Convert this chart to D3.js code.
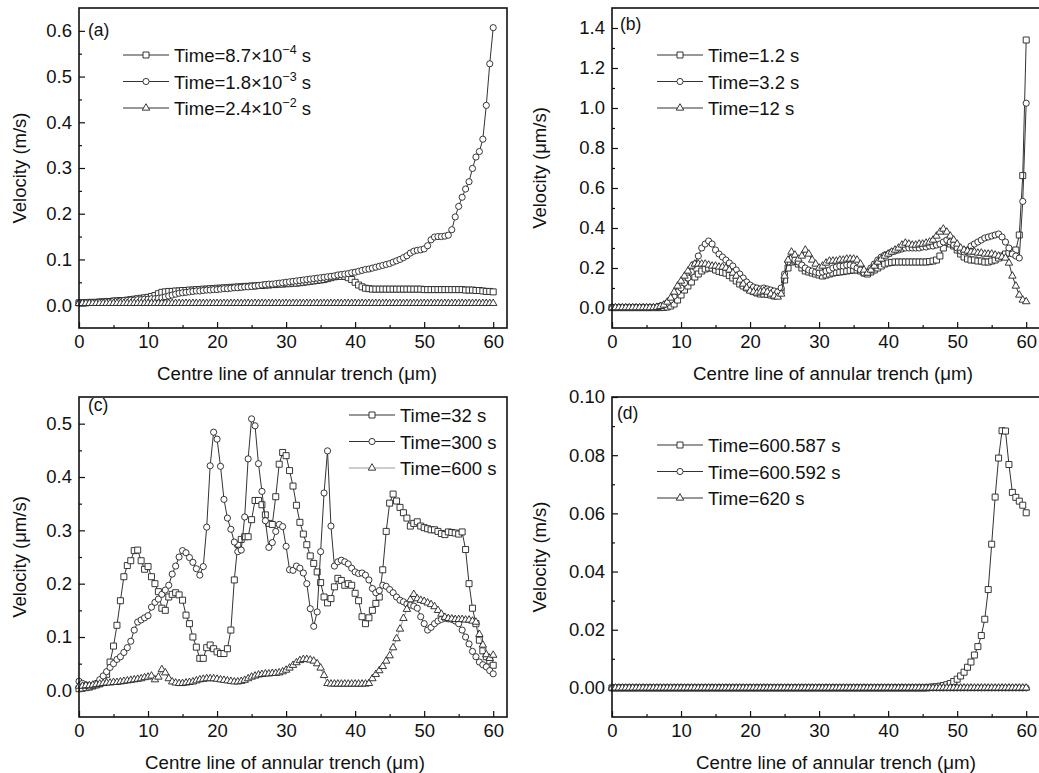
<!DOCTYPE html>
<html>
<head>
<meta charset="utf-8">
<script src="https://cdn.jsdelivr.net/npm/d3@7"></script>
<style>
  body { margin: 0; background: #fff; }
  text { font-family: "Liberation Sans", Arial, sans-serif; fill: #111; }
</style>
</head>
<body>
<svg id="chart" width="1039" height="773"></svg>
<script>
// sample positions along the trench centre line (um)
let positions = [
  0, 0.5, 1, 1.5, 2, 2.5, 3, 3.5, 4, 4.5,
  5, 5.5, 6, 6.5, 7, 7.5, 8, 8.5, 9, 9.5,
  10, 10.5, 11, 11.5, 12, 12.5, 13, 13.5, 14, 14.5,
  15, 15.5, 16, 16.5, 17, 17.5, 18, 18.5, 19, 19.5,
  20, 20.5, 21, 21.5, 22, 22.5, 23, 23.5, 24, 24.5,
  25, 25.5, 26, 26.5, 27, 27.5, 28, 28.5, 29, 29.5,
  30, 30.5, 31, 31.5, 32, 32.5, 33, 33.5, 34, 34.5,
  35, 35.5, 36, 36.5, 37, 37.5, 38, 38.5, 39, 39.5,
  40, 40.5, 41, 41.5, 42, 42.5, 43, 43.5, 44, 44.5,
  45, 45.5, 46, 46.5, 47, 47.5, 48, 48.5, 49, 49.5,
  50, 50.5, 51, 51.5, 52, 52.5, 53, 53.5, 54, 54.5,
  55, 55.5, 56, 56.5, 57, 57.5, 58, 58.5, 59, 59.5,
  60
]

let xTicks = [0, 10, 20, 30, 40, 50, 60]
let xMinor = [5, 15, 25, 35, 45, 55]

// (a)
let aLegend = ['Time=8.7×10{−4} s', 'Time=1.8×10{−3} s', 'Time=2.4×10{−2} s']
let aTicks = [0, 0.1, 0.2, 0.3, 0.4, 0.5, 0.6]
let aMinor = [0.05, 0.15, 0.25, 0.35, 0.45, 0.55]
let aSquare = [
  0.005, 0.005, 0.005, 0.006, 0.006, 0.006, 0.007, 0.007, 0.008, 0.008,
  0.009, 0.009, 0.010, 0.010, 0.011, 0.012, 0.013, 0.014, 0.015, 0.016,
  0.017, 0.019, 0.021, 0.025, 0.028, 0.029, 0.030, 0.030, 0.031, 0.031,
  0.032, 0.032, 0.033, 0.033, 0.034, 0.034, 0.035, 0.035, 0.036, 0.036,
  0.037, 0.037, 0.038, 0.038, 0.039, 0.039, 0.040, 0.040, 0.041, 0.041,
  0.042, 0.042, 0.043, 0.043, 0.044, 0.044, 0.045, 0.045, 0.046, 0.046,
  0.047, 0.047, 0.048, 0.048, 0.049, 0.050, 0.051, 0.052, 0.053, 0.054,
  0.055, 0.056, 0.058, 0.060, 0.062, 0.063, 0.063, 0.063, 0.060, 0.056,
  0.050, 0.044, 0.040, 0.037, 0.036, 0.035, 0.035, 0.035, 0.035, 0.035,
  0.035, 0.035, 0.035, 0.035, 0.035, 0.035, 0.035, 0.035, 0.035, 0.035,
  0.034, 0.034, 0.034, 0.034, 0.034, 0.034, 0.034, 0.034, 0.034, 0.034,
  0.034, 0.034, 0.033, 0.033, 0.033, 0.032, 0.032, 0.031, 0.030, 0.030,
  0.029
]
let aCircle = [
  0.005, 0.005, 0.005, 0.006, 0.006, 0.006, 0.007, 0.007, 0.008, 0.008,
  0.009, 0.009, 0.009, 0.010, 0.010, 0.011, 0.011, 0.012, 0.012, 0.013,
  0.013, 0.014, 0.014, 0.015, 0.016, 0.018, 0.020, 0.022, 0.024, 0.026,
  0.027, 0.028, 0.029, 0.030, 0.031, 0.031, 0.032, 0.033, 0.033, 0.034,
  0.034, 0.035, 0.036, 0.036, 0.037, 0.038, 0.038, 0.039, 0.040, 0.040,
  0.041, 0.042, 0.043, 0.044, 0.045, 0.046, 0.046, 0.047, 0.048, 0.049,
  0.050, 0.051, 0.052, 0.053, 0.054, 0.055, 0.056, 0.057, 0.058, 0.059,
  0.060, 0.061, 0.062, 0.063, 0.064, 0.066, 0.067, 0.068, 0.069, 0.071,
  0.072, 0.074, 0.076, 0.078, 0.079, 0.081, 0.083, 0.085, 0.087, 0.089,
  0.091, 0.094, 0.097, 0.100, 0.104, 0.108, 0.114, 0.118, 0.120, 0.121,
  0.123, 0.130, 0.143, 0.149, 0.150, 0.150, 0.151, 0.153, 0.165, 0.193,
  0.216, 0.236, 0.254, 0.270, 0.299, 0.324, 0.336, 0.363, 0.437, 0.528,
  0.607
]
let aTriangle = [
  0.004, 0.004, 0.004, 0.004, 0.004, 0.004, 0.004, 0.004, 0.004, 0.004,
  0.004, 0.004, 0.004, 0.004, 0.004, 0.004, 0.004, 0.004, 0.004, 0.004,
  0.004, 0.004, 0.004, 0.004, 0.004, 0.004, 0.004, 0.004, 0.004, 0.004,
  0.004, 0.004, 0.004, 0.004, 0.004, 0.004, 0.004, 0.004, 0.004, 0.004,
  0.004, 0.004, 0.004, 0.004, 0.004, 0.004, 0.004, 0.004, 0.004, 0.004,
  0.004, 0.004, 0.004, 0.004, 0.004, 0.004, 0.004, 0.004, 0.004, 0.004,
  0.004, 0.004, 0.004, 0.004, 0.004, 0.004, 0.004, 0.004, 0.004, 0.004,
  0.004, 0.004, 0.004, 0.004, 0.004, 0.004, 0.004, 0.004, 0.004, 0.004,
  0.004, 0.004, 0.004, 0.004, 0.004, 0.004, 0.004, 0.004, 0.004, 0.004,
  0.004, 0.004, 0.004, 0.004, 0.004, 0.004, 0.004, 0.004, 0.004, 0.004,
  0.004, 0.004, 0.004, 0.004, 0.004, 0.004, 0.004, 0.004, 0.004, 0.004,
  0.004, 0.004, 0.004, 0.004, 0.004, 0.004, 0.004, 0.004, 0.004, 0.004,
  0.004
]

// (b)
let bLegend = ['Time=1.2 s', 'Time=3.2 s', 'Time=12 s']
let bTicks = [0, 0.2, 0.4, 0.6, 0.8, 1.0, 1.2, 1.4]
let bMinor = [0.1, 0.3, 0.5, 0.7, 0.9, 1.1, 1.3]
let bSquare = [
  0.002, 0.002, 0.002, 0.002, 0.002, 0.002, 0.002, 0.002, 0.002, 0.002,
  0.002, 0.002, 0.002, 0.002, 0.002, 0.003, 0.005, 0.010, 0.020, 0.040,
  0.065, 0.090, 0.110, 0.130, 0.155, 0.170, 0.185, 0.195, 0.200, 0.200,
  0.190, 0.183, 0.178, 0.174, 0.162, 0.150, 0.135, 0.120, 0.110, 0.100,
  0.094, 0.082, 0.075, 0.070, 0.070, 0.068, 0.065, 0.060, 0.065, 0.085,
  0.140, 0.200, 0.230, 0.235, 0.220, 0.200, 0.185, 0.180, 0.175, 0.170,
  0.165, 0.160, 0.165, 0.170, 0.175, 0.178, 0.180, 0.182, 0.185, 0.188,
  0.190, 0.190, 0.185, 0.175, 0.170, 0.180, 0.190, 0.200, 0.210, 0.220,
  0.225, 0.228, 0.230, 0.230, 0.230, 0.230, 0.230, 0.230, 0.230, 0.230,
  0.230, 0.230, 0.232, 0.235, 0.240, 0.260, 0.300, 0.330, 0.320, 0.310,
  0.290, 0.270, 0.255, 0.245, 0.240, 0.240, 0.235, 0.235, 0.230, 0.230,
  0.235, 0.240, 0.250, 0.260, 0.270, 0.275, 0.280, 0.290, 0.365, 0.662,
  1.340
]
let bCircle = [
  0.002, 0.002, 0.002, 0.002, 0.002, 0.002, 0.002, 0.002, 0.002, 0.002,
  0.002, 0.002, 0.003, 0.005, 0.010, 0.015, 0.025, 0.040, 0.060, 0.080,
  0.100, 0.125, 0.150, 0.180, 0.220, 0.260, 0.300, 0.320, 0.335, 0.320,
  0.290, 0.270, 0.255, 0.240, 0.225, 0.210, 0.190, 0.170, 0.150, 0.130,
  0.115, 0.105, 0.100, 0.095, 0.100, 0.095, 0.090, 0.085, 0.080, 0.100,
  0.170, 0.230, 0.250, 0.240, 0.230, 0.215, 0.200, 0.190, 0.185, 0.180,
  0.175, 0.180, 0.185, 0.190, 0.200, 0.205, 0.210, 0.210, 0.215, 0.215,
  0.210, 0.200, 0.190, 0.175, 0.180, 0.200, 0.220, 0.240, 0.255, 0.265,
  0.270, 0.280, 0.285, 0.290, 0.295, 0.300, 0.300, 0.300, 0.300, 0.300,
  0.305, 0.305, 0.310, 0.310, 0.315, 0.320, 0.330, 0.340, 0.330, 0.315,
  0.300, 0.285, 0.280, 0.290, 0.310, 0.320, 0.330, 0.340, 0.350, 0.355,
  0.360, 0.365, 0.370, 0.355, 0.330, 0.300, 0.270, 0.260, 0.250, 0.533,
  1.024
]
let bTriangle = [
  0.002, 0.002, 0.002, 0.002, 0.002, 0.002, 0.002, 0.002, 0.002, 0.002,
  0.002, 0.002, 0.002, 0.004, 0.008, 0.015, 0.030, 0.050, 0.080, 0.110,
  0.135, 0.160, 0.185, 0.210, 0.220, 0.220, 0.220, 0.220, 0.215, 0.210,
  0.210, 0.205, 0.205, 0.200, 0.190, 0.175, 0.160, 0.140, 0.120, 0.100,
  0.085, 0.080, 0.075, 0.080, 0.085, 0.080, 0.070, 0.060, 0.055, 0.070,
  0.160, 0.240, 0.280, 0.265, 0.245, 0.260, 0.290, 0.270, 0.240, 0.220,
  0.200, 0.210, 0.225, 0.235, 0.235, 0.235, 0.240, 0.240, 0.245, 0.245,
  0.245, 0.240, 0.220, 0.190, 0.175, 0.190, 0.210, 0.230, 0.245, 0.260,
  0.270, 0.280, 0.290, 0.300, 0.315, 0.325, 0.320, 0.315, 0.315, 0.320,
  0.320, 0.325, 0.330, 0.340, 0.360, 0.380, 0.395, 0.380, 0.360, 0.340,
  0.320, 0.300, 0.290, 0.285, 0.280, 0.280, 0.275, 0.275, 0.270, 0.270,
  0.270, 0.265, 0.260, 0.255, 0.250, 0.225, 0.160, 0.110, 0.065, 0.040,
  0.032
]

// (c)
let cLegend = ['Time=32 s', 'Time=300 s', 'Time=600 s']
let cTicks = [0, 0.1, 0.2, 0.3, 0.4, 0.5]
let cMinor = [0.05, 0.15, 0.25, 0.35, 0.45]
let cSquare = [
  0.003, 0.004, 0.005, 0.006, 0.008, 0.010, 0.012, 0.018, 0.030, 0.053,
  0.083, 0.122, 0.168, 0.213, 0.234, 0.243, 0.262, 0.263, 0.243, 0.227,
  0.232, 0.213, 0.200, 0.185, 0.154, 0.150, 0.175, 0.180, 0.183, 0.179,
  0.169, 0.141, 0.125, 0.100, 0.081, 0.060, 0.060, 0.080, 0.085, 0.078,
  0.072, 0.069, 0.069, 0.078, 0.113, 0.207, 0.274, 0.283, 0.288, 0.288,
  0.320, 0.356, 0.356, 0.348, 0.329, 0.313, 0.311, 0.363, 0.424, 0.446,
  0.440, 0.412, 0.383, 0.347, 0.315, 0.293, 0.273, 0.252, 0.238, 0.222,
  0.202, 0.175, 0.164, 0.172, 0.194, 0.210, 0.206, 0.197, 0.200, 0.197,
  0.182, 0.168, 0.138, 0.125, 0.136, 0.150, 0.163, 0.175, 0.226, 0.298,
  0.351, 0.368, 0.355, 0.343, 0.333, 0.323, 0.308, 0.313, 0.316, 0.308,
  0.305, 0.303, 0.301, 0.301, 0.298, 0.294, 0.292, 0.297, 0.296, 0.295,
  0.293, 0.297, 0.264, 0.200, 0.154, 0.125, 0.094, 0.074, 0.063, 0.055,
  0.047
]
let cCircle = [
  0.017, 0.013, 0.010, 0.008, 0.009, 0.013, 0.020, 0.027, 0.035, 0.043,
  0.050, 0.058, 0.063, 0.071, 0.080, 0.092, 0.113, 0.128, 0.132, 0.136,
  0.140, 0.156, 0.165, 0.171, 0.180, 0.188, 0.197, 0.218, 0.233, 0.250,
  0.262, 0.258, 0.249, 0.240, 0.228, 0.216, 0.232, 0.306, 0.421, 0.484,
  0.471, 0.420, 0.358, 0.323, 0.302, 0.278, 0.260, 0.263, 0.325, 0.434,
  0.509, 0.496, 0.425, 0.373, 0.318, 0.268, 0.277, 0.298, 0.311, 0.307,
  0.270, 0.226, 0.225, 0.233, 0.229, 0.220, 0.200, 0.153, 0.120, 0.147,
  0.260, 0.370, 0.449, 0.308, 0.233, 0.241, 0.244, 0.241, 0.237, 0.229,
  0.222, 0.219, 0.220, 0.216, 0.207, 0.191, 0.183, 0.187, 0.197, 0.195,
  0.189, 0.183, 0.175, 0.169, 0.166, 0.162, 0.160, 0.158, 0.154, 0.138,
  0.125, 0.113, 0.118, 0.125, 0.130, 0.133, 0.135, 0.134, 0.133, 0.130,
  0.125, 0.113, 0.100, 0.087, 0.073, 0.063, 0.053, 0.048, 0.044, 0.037,
  0.031
]
let cTriangle = [
  0.008, 0.008, 0.009, 0.009, 0.010, 0.011, 0.012, 0.013, 0.014, 0.014,
  0.015, 0.015, 0.016, 0.017, 0.018, 0.019, 0.020, 0.021, 0.022, 0.024,
  0.025, 0.027, 0.020, 0.025, 0.039, 0.033, 0.022, 0.016, 0.014, 0.013,
  0.013, 0.014, 0.015, 0.016, 0.018, 0.020, 0.021, 0.022, 0.022, 0.022,
  0.021, 0.020, 0.019, 0.018, 0.017, 0.016, 0.016, 0.017, 0.019, 0.022,
  0.025, 0.027, 0.029, 0.030, 0.031, 0.031, 0.032, 0.032, 0.033, 0.035,
  0.038, 0.042, 0.047, 0.052, 0.056, 0.058, 0.058, 0.057, 0.055, 0.050,
  0.042, 0.028, 0.013, 0.012, 0.012, 0.012, 0.012, 0.012, 0.012, 0.012,
  0.012, 0.012, 0.012, 0.012, 0.013, 0.022, 0.030, 0.037, 0.045, 0.055,
  0.065, 0.080, 0.097, 0.115, 0.135, 0.152, 0.170, 0.180, 0.172, 0.169,
  0.167, 0.164, 0.161, 0.157, 0.150, 0.143, 0.137, 0.135, 0.134, 0.133,
  0.133, 0.133, 0.132, 0.132, 0.130, 0.128, 0.105, 0.085, 0.067, 0.060,
  0.066
]

// (d)
let dLegend = ['Time=600.587 s', 'Time=600.592 s', 'Time=620 s']
let dTicks = [0, 0.02, 0.04, 0.06, 0.08, 0.10]
let dMinor = [0.01, 0.03, 0.05, 0.07, 0.09]
let dSquare = [
  0, 0, 0, 0, 0, 0, 0, 0, 0, 0,
  0, 0, 0, 0, 0, 0, 0, 0, 0, 0,
  0, 0, 0, 0, 0, 0, 0, 0, 0, 0,
  0, 0, 0, 0, 0, 0, 0, 0, 0, 0,
  0, 0, 0, 0, 0, 0, 0, 0, 0, 0,
  0, 0, 0, 0, 0, 0, 0, 0, 0, 0,
  0, 0, 0, 0, 0, 0, 0, 0, 0, 0,
  0, 0, 0, 0, 0, 0, 0, 0, 0, 0,
  0, 0, 0, 0, 0, 0, 0, 0, 0, 0,
  0, 0, 0.0002, 0.0003, 0.0004, 0.0006, 0.0008, 0.0011, 0.0015, 0.0022,
  0.0030, 0.0041, 0.0054, 0.0071, 0.0089, 0.0113, 0.0142, 0.0180, 0.0236, 0.0338,
  0.0494, 0.0656, 0.0790, 0.0884, 0.0883, 0.0768, 0.0672, 0.0655, 0.0642, 0.0628,
  0.0602
]
let dCircle = [
  0, 0, 0, 0, 0, 0, 0, 0, 0, 0,
  0, 0, 0, 0, 0, 0, 0, 0, 0, 0,
  0, 0, 0, 0, 0, 0, 0, 0, 0, 0,
  0, 0, 0, 0, 0, 0, 0, 0, 0, 0,
  0, 0, 0, 0, 0, 0, 0, 0, 0, 0,
  0, 0, 0, 0, 0, 0, 0, 0, 0, 0,
  0, 0, 0, 0, 0, 0, 0, 0, 0, 0,
  0, 0, 0, 0, 0, 0, 0, 0, 0, 0,
  0, 0, 0, 0, 0, 0, 0, 0, 0, 0,
  0, 0, 0, 0, 0, 0, 0, 0, 0, 0,
  0, 0, 0, 0, 0, 0, 0, 0, 0, 0,
  0, 0, 0, 0, 0, 0, 0, 0, 0, 0,
  0
]
let dTriangle = [
  0, 0, 0, 0, 0, 0, 0, 0, 0, 0,
  0, 0, 0, 0, 0, 0, 0, 0, 0, 0,
  0, 0, 0, 0, 0, 0, 0, 0, 0, 0,
  0, 0, 0, 0, 0, 0, 0, 0, 0, 0,
  0, 0, 0, 0, 0, 0, 0, 0, 0, 0,
  0, 0, 0, 0, 0, 0, 0, 0, 0, 0,
  0, 0, 0, 0, 0, 0, 0, 0, 0, 0,
  0, 0, 0, 0, 0, 0, 0, 0, 0, 0,
  0, 0, 0, 0, 0, 0, 0, 0, 0, 0,
  0, 0, 0, 0, 0, 0, 0, 0, 0, 0,
  0, 0, 0, 0, 0, 0, 0, 0, 0, 0,
  0, 0, 0, 0, 0, 0, 0, 0, 0, 0,
  0
]

let svg = d3.select('#chart')

let markers = {
  square: d3.symbol().type(d3.symbolSquare).size(36),
  circle: d3.symbol().type(d3.symbolCircle).size(30),
  triangle: d3.symbol().type(d3.symbolTriangle).size(24)
}
let shapes = ['square', 'circle', 'triangle']

let panels = [
  { tag: '(a)', left: 79, top: 8, yDomain: [-0.05, 0.65], ticks: aTicks, minor: aMinor, fmt: '.1f',
    yTitle: 'Velocity (m/s)', yTitleX: 20, xTitleX: 297, tagPos: [88, 36],
    legend: aLegend, legendPos: [123, 55], data: [aSquare, aCircle, aTriangle], lineColors: ['#333', '#333', '#333'] },
  { tag: '(b)', left: 612, top: 8, yDomain: [-0.1, 1.5], ticks: bTicks, minor: bMinor, fmt: '.1f',
    yTitle: 'Velocity (μm/s)', yTitleX: 540, xTitleX: 833, tagPos: [620, 30],
    legend: bLegend, legendPos: [657, 55], data: [bSquare, bCircle, bTriangle], lineColors: ['#333', '#333', '#333'] },
  { tag: '(c)', left: 79, top: 397, yDomain: [-0.05, 0.55], ticks: cTicks, minor: cMinor, fmt: '.1f',
    yTitle: 'Velocity (μm/s)', yTitleX: 20, xTitleX: 285, tagPos: [88, 411],
    legend: cLegend, legendPos: [349, 415], data: [cSquare, cCircle, cTriangle], lineColors: ['#333', '#333', '#999'] },
  { tag: '(d)', left: 612, top: 397, yDomain: [-0.01, 0.10], ticks: dTicks, minor: dMinor, fmt: '.2f',
    yTitle: 'Velocity (m/s)', yTitleX: 540, xTitleX: 836, tagPos: [617, 419],
    legend: dLegend, legendPos: [657, 445], data: [dSquare, dCircle, dTriangle], lineColors: ['#333', '#333', '#333'] }
]

let plotW = 428
let plotH = 320

let styleAxis = (g) => {
  g.select('.domain').remove()
  g.selectAll('.tick line').attr('stroke', '#111').attr('stroke-width', 1.2)
  g.selectAll('.tick text').attr('font-size', 18.5).attr('fill', '#111')
    .attr('font-family', '"Liberation Sans", Arial, sans-serif')
}

let writeLabel = (sel, label) => {
  // "{...}" marks a superscript
  let m = label.match(/^(.*)\{(.+?)\}(.*)$/)
  if (!m) { sel.text(label); return }
  sel.append('tspan').text(m[1])
  sel.append('tspan').attr('font-size', 12.5).attr('dy', -8).text(m[2])
  sel.append('tspan').attr('dy', 8).text(m[3])
}

let drawPanel = (p) => {
  let right = p.left + plotW
  let bottom = p.top + plotH
  let x = d3.scaleLinear().domain([0, 62]).range([p.left, right])
  let y = d3.scaleLinear().domain(p.yDomain).range([bottom, p.top])
  let g = svg.append('g')

  // axes with inward ticks
  g.append('g').attr('transform', 'translate(0,' + bottom + ')')
    .call(d3.axisBottom(x).tickValues(xTicks).tickSizeInner(-6).tickSizeOuter(0).tickPadding(7))
    .call(styleAxis)
  g.append('g').attr('transform', 'translate(0,' + bottom + ')')
    .call(d3.axisBottom(x).tickValues(xMinor).tickSizeInner(-3).tickSizeOuter(0).tickFormat(''))
    .call(styleAxis)
  g.append('g').attr('transform', 'translate(' + p.left + ',0)')
    .call(d3.axisLeft(y).tickValues(p.ticks).tickSizeInner(-6).tickSizeOuter(0).tickPadding(7).tickFormat(d3.format(p.fmt)))
    .call(styleAxis)
  g.append('g').attr('transform', 'translate(' + p.left + ',0)')
    .call(d3.axisLeft(y).tickValues(p.minor).tickSizeInner(-3).tickSizeOuter(0).tickFormat(''))
    .call(styleAxis)

  // series
  p.data.forEach((values, i) => {
    let pts = values.map((v, k) => [positions[k], v])
    let line = d3.line().x(d => x(d[0])).y(d => y(d[1]))
    g.append('path').datum(pts)
      .attr('d', line)
      .attr('fill', 'none')
      .attr('stroke', p.lineColors[i])
      .attr('stroke-width', 1)
    g.append('g').selectAll('path')
      .data(pts)
      .enter()
      .append('path')
      .attr('d', markers[shapes[i]])
      .attr('transform', d => 'translate(' + x(d[0]) + ',' + y(d[1]) + ')')
      .attr('fill', '#fff')
      .attr('stroke', '#222')
      .attr('stroke-width', 0.9)
  })

  // legend
  p.legend.forEach((label, i) => {
    let lx = p.legendPos[0]
    let ly = p.legendPos[1] + i * 26.5
    g.append('line')
      .attr('x1', lx).attr('x2', lx + 46)
      .attr('y1', ly).attr('y2', ly)
      .attr('stroke', p.lineColors[i]).attr('stroke-width', 1)
    g.append('path')
      .attr('d', markers[shapes[i]])
      .attr('transform', 'translate(' + (lx + 23) + ',' + ly + ')')
      .attr('fill', '#fff').attr('stroke', '#222').attr('stroke-width', 0.9)
    let t = g.append('text')
      .attr('x', lx + 51).attr('y', ly + 7)
      .attr('font-size', 18.5)
    writeLabel(t, label)
  })

  g.append('text')
    .attr('x', p.tagPos[0]).attr('y', p.tagPos[1])
    .attr('font-size', 17.5)
    .text(p.tag)

  // frame
  g.append('rect')
    .attr('x', p.left).attr('y', p.top)
    .attr('width', plotW).attr('height', plotH)
    .attr('fill', 'none').attr('stroke', '#111').attr('stroke-width', 1.6)

  // titles
  g.append('text')
    .attr('x', p.xTitleX).attr('y', bottom + 52)
    .attr('text-anchor', 'middle')
    .attr('font-size', 18.7)
    .text('Centre line of annular trench (μm)')
  g.append('text')
    .attr('transform', 'translate(' + p.yTitleX + ',' + (p.top + plotH / 2) + ') rotate(-90)')
    .attr('text-anchor', 'middle')
    .attr('dy', '0.35em')
    .attr('font-size', 18.5)
    .text(p.yTitle)
}

panels.forEach(drawPanel)
</script>
</body>
</html>
